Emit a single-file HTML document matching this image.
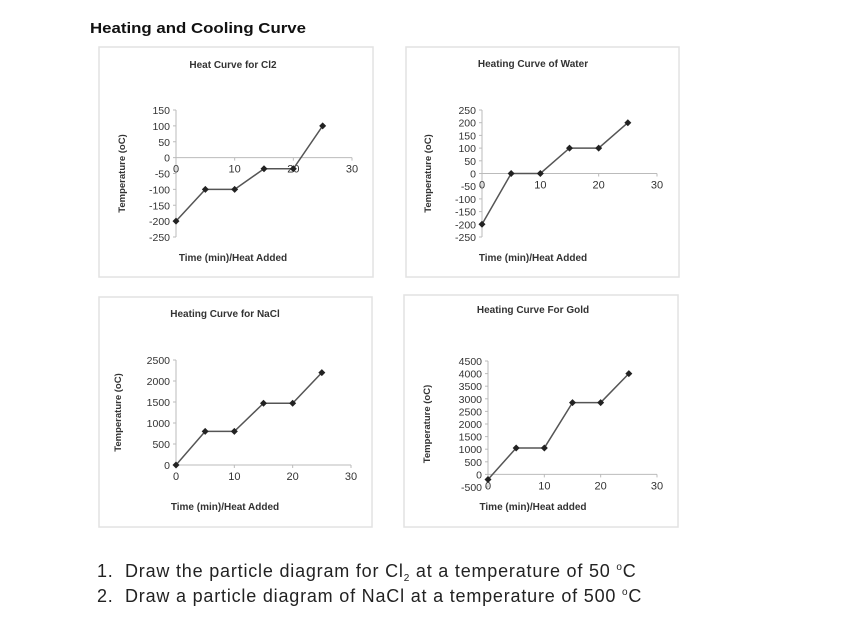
<!DOCTYPE html>
<html><head><meta charset="utf-8"><style>
html,body{margin:0;padding:0;background:#fff}
svg{display:block;font-family:"Liberation Sans",Arial,sans-serif}
</style></head><body>
<svg id="s" width="842" height="638" viewBox="0 0 842 638">
<text x="90" y="33" font-size="15" font-weight="bold" textLength="216" lengthAdjust="spacingAndGlyphs" fill="#111">Heating and Cooling Curve</text>
<text x="97" y="577" font-size="18" letter-spacing="0.8" fill="#222"><tspan>1.</tspan><tspan x="125">Draw the particle diagram for Cl</tspan><tspan font-size="10" dy="4">2</tspan><tspan dy="-4"> at a temperature of 50 </tspan><tspan font-size="10" dy="-7">o</tspan><tspan dy="7">C</tspan></text>
<text x="97" y="602" font-size="18" letter-spacing="0.8" fill="#222"><tspan>2.</tspan><tspan x="125">Draw a particle diagram of NaCl at a temperature of 500 </tspan><tspan font-size="10" dy="-7">o</tspan><tspan dy="7">C</tspan></text>
</svg>
<script>
const times = [0, 5, 10, 15, 20, 25];
const cl2Temps = [-200, -100, -100, -35, -35, 100];
const waterTemps = [-200, 0, 0, 100, 100, 200];
const naclTemps = [0, 800, 800, 1470, 1470, 2200];
const goldTemps = [-200, 1050, 1050, 2850, 2850, 4000];
const cl2Ticks = [150, 100, 50, 0, -50, -100, -150, -200, -250];
const waterTicks = [250, 200, 150, 100, 50, 0, -50, -100, -150, -200, -250];
const naclTicks = [2500, 2000, 1500, 1000, 500, 0];
const goldTicks = [4500, 4000, 3500, 3000, 2500, 2000, 1500, 1000, 500, 0, -500];
const xTicks = [0, 10, 20, 30];

const NS = 'http://www.w3.org/2000/svg';
const svg = document.getElementById('s');
function mk(tag, attrs, parent, txt) {
  const e = document.createElementNS(NS, tag);
  for (const k in attrs) e.setAttribute(k, attrs[k]);
  if (txt !== undefined) e.textContent = txt;
  (parent || svg).appendChild(e);
  return e;
}
function chart(cfg) {
  const g = mk('g', {});
  
  
  const p = cfg.panel;
  const box = mk('rect', {x: p[0], y: p[1], width: p[2], height: p[3], fill: 'none', stroke: '#e2e2e2', 'stroke-width': 1.5}, g);
  
  
  const ymax = cfg.ticks[0], ymin = cfg.ticks[cfg.ticks.length - 1];
  const sy = v => cfg.yTop + (ymax - v) / (ymax - ymin) * (cfg.yBot - cfg.yTop);
  const sx = v => cfg.x0 + v / 30 * (cfg.x30 - cfg.x0);
  const t = mk('text', {x: cfg.tcx, y: cfg.ty, 'font-size': 10, 'font-weight': 'bold', 'text-anchor': 'middle', fill: '#333'}, g, cfg.title);
  
  
  const ya = mk('line', {x1: cfg.x0, x2: cfg.x0, y1: cfg.yTop, y2: cfg.yBot, stroke: '#bbb'}, g);
  
  
  const xa = mk('line', {x1: cfg.x0, x2: cfg.x30, y1: sy(0), y2: sy(0), stroke: '#bbb'}, g);
  
  
  cfg.ticks.forEach(v => {
    mk('line', {x1: cfg.x0 - 3, x2: cfg.x0, y1: sy(v), y2: sy(v), stroke: '#bbb'}, g);
    const l = mk('text', {x: cfg.x0 - 6, y: sy(v) + 4, 'font-size': 10.5, 'text-anchor': 'end', fill: '#333'}, g, String(v));
    
    
  });
  xTicks.forEach(v => {
    mk('line', {x1: sx(v), x2: sx(v), y1: sy(0), y2: sy(0) + 3, stroke: '#bbb'}, g);
    const l = mk('text', {x: sx(v), y: sy(0) + 15, 'font-size': 11, 'text-anchor': 'middle', fill: '#333'}, g, String(v));
    
    
  });
  const yl = mk('text', {x: 0, y: 0, 'font-size': 9.5, 'font-weight': 'bold', 'text-anchor': 'middle', fill: '#333', transform: `translate(${cfg.ylx},${(cfg.yTop + cfg.yBot) / 2}) rotate(-90)`}, g, 'Temperature (oC)');
  
  
  const xl = mk('text', {x: cfg.tcx, y: cfg.xly, 'font-size': 10, 'font-weight': 'bold', 'text-anchor': 'middle', fill: '#333'}, g, cfg.xlabel);
  
  
  const pts = times.map((tm, i) => sx(tm) + ',' + sy(cfg.data[i])).join(' ');
  const pl = mk('polyline', {points: pts, fill: 'none', stroke: '#555', 'stroke-width': 1.5}, g);
  
  
  times.forEach((tm, i) => {
    const x = sx(tm), y = sy(cfg.data[i]);
    const d = mk('polygon', {points: `${x},${y - 3.5} ${x + 3.5},${y} ${x},${y + 3.5} ${x - 3.5},${y}`, fill: '#222'}, g);
    
    
  });
}
chart({name: 'chart-cl2', panel: [99, 47, 274, 230], title: 'Heat Curve for Cl2', tcx: 233, ty: 68, x0: 176, x30: 352, yTop: 110, yBot: 237, ticks: cl2Ticks, data: cl2Temps, ylx: 125, xly: 261, xlabel: 'Time (min)/Heat Added'});
chart({name: 'chart-water', panel: [406, 47, 273, 230], title: 'Heating Curve of Water', tcx: 533, ty: 67, x0: 482, x30: 657, yTop: 110, yBot: 237, ticks: waterTicks, data: waterTemps, ylx: 431, xly: 261, xlabel: 'Time (min)/Heat Added'});
chart({name: 'chart-nacl', panel: [99, 297, 273, 230], title: 'Heating Curve for NaCl', tcx: 225, ty: 317, x0: 176, x30: 351, yTop: 360, yBot: 465, ticks: naclTicks, data: naclTemps, ylx: 121, xly: 510, xlabel: 'Time (min)/Heat Added'});
chart({name: 'chart-gold', panel: [404, 295, 274, 232], title: 'Heating Curve For Gold', tcx: 533, ty: 313, x0: 488, x30: 657, yTop: 361, yBot: 487, ticks: goldTicks, data: goldTemps, ylx: 430, xly: 510, xlabel: 'Time (min)/Heat added'});
</script>
</body></html>
